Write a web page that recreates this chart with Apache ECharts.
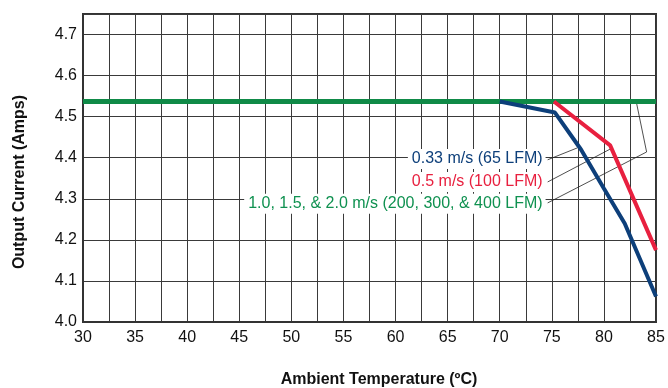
<!DOCTYPE html>
<html>
<head>
<meta charset="utf-8">
<script src="https://cdn.jsdelivr.net/npm/echarts@6/dist/echarts.min.js"></script>
<style>
  html, body { margin: 0; padding: 0; background: #fff; }
  #chart { width: 668px; height: 388px; }
</style>
</head>
<body>
<div id="chart"></div>
<script>
  // 数据
  var xTicks = [30, 35, 40, 45, 50, 55, 60, 65, 70, 75, 80, 85];
  var yTicks = [4.0, 4.1, 4.2, 4.3, 4.4, 4.5, 4.6, 4.7];
  var greenLine = [[30, 4.537], [85, 4.537]];
  var redLine = [[75.2, 4.537], [80.6, 4.43], [85, 4.175]];
  var blueLine = [[70, 4.537], [75.3, 4.51], [77.8, 4.42], [80, 4.325], [82, 4.24], [85, 4.062]];
  var noteNames = ['0.33 m/s (65 LFM)', '0.5 m/s (100 LFM)', '1.0, 1.5, & 2.0 m/s (200, 300, & 400 LFM)'];
  var noteColors = ['#0d3f7a', '#e8203f', '#0f9150'];
  var noteX = 74.4;
  var noteY = [4.397, 4.341, 4.288];
  var leaderBlue = [[74.6, 4.395], [77.45, 4.424]];
  var leaderRed = [[74.6, 4.341], [80.6, 4.421]];
  var leaderGreen = [[74.6, 4.29], [84.1, 4.414], [83.1, 4.537]];

  var fontMain = '"Liberation Sans", Arial, sans-serif';

  var myChart = echarts.init(document.getElementById('chart'));

  function leader(data) {
    return {
      type: 'line',
      data: data,
      symbol: 'none',
      silent: true,
      z: 1,
      lineStyle: { color: '#222', width: 0.8 }
    };
  }

  var option = {
    animation: false,
    grid: {
      left: 83, right: 12, top: 14, bottom: 66,
      show: true, borderColor: '#333', borderWidth: 2
    },
    xAxis: {
      type: 'value',
      min: xTicks[0],
      max: xTicks[xTicks.length - 1],
      interval: 2.5,
      axisLine: { show: true, lineStyle: { color: '#333', width: 2 } },
      axisTick: { show: false },
      splitLine: { show: true, lineStyle: { color: '#3a3a3a', width: 1 } },
      axisLabel: {
        color: '#111', fontSize: 16, fontFamily: fontMain, margin: 8,
        formatter: function (v) { return xTicks.indexOf(v) >= 0 ? String(v) : ''; }
      }
    },
    yAxis: {
      type: 'value',
      min: yTicks[0],
      max: 4.75,
      interval: 0.1,
      axisLine: { show: true, lineStyle: { color: '#333', width: 2 } },
      axisTick: { show: false },
      splitLine: { show: true, lineStyle: { color: '#3a3a3a', width: 1 } },
      axisLabel: {
        color: '#111', fontSize: 16, fontFamily: fontMain, margin: 6, showMaxLabel: false,
        formatter: function (v) {
          var s = v.toFixed(1);
          return yTicks.indexOf(parseFloat(s)) >= 0 && Math.abs(v - parseFloat(s)) < 1e-6 ? s : '';
        }
      }
    },
    series: [
      leader(leaderBlue),
      leader(leaderRed),
      leader(leaderGreen),
      {
        type: 'line', data: greenLine, symbol: 'none', z: 4,
        lineStyle: { color: '#0f8a47', width: 5 }
      },
      {
        type: 'line', data: redLine, symbol: 'none', z: 5,
        lineStyle: { color: '#e8203f', width: 4 }
      },
      {
        type: 'line', data: blueLine, symbol: 'none', z: 6,
        lineStyle: { color: '#0d3f7a', width: 4 }
      }
    ]
  };

  myChart.setOption(option);

  // 标注文字：用坐标换算放到图上，白底遮住网格线
  var graphics = [
    {
      type: 'text', x: 379, y: 380, z: 10,
      style: { text: 'Ambient Temperature (ºC)', fill: '#111', font: 'bold 16px ' + fontMain, align: 'center', verticalAlign: 'middle' }
    },
    {
      type: 'text', x: 20, y: 182, rotation: Math.PI / 2, z: 10,
      style: { text: 'Output Current (Amps)', fill: '#111', font: 'bold 16px ' + fontMain, align: 'center', verticalAlign: 'middle' }
    }
  ];
  noteY.forEach(function (y, i) {
    var p = myChart.convertToPixel({ gridIndex: 0 }, [noteX, y]);
    graphics.push({
      type: 'text', x: p[0], y: p[1], z: 10,
      style: {
        text: noteNames[i], fill: noteColors[i], font: '16px ' + fontMain,
        align: 'right', verticalAlign: 'middle',
        backgroundColor: '#ffffff', padding: [2, 3, 2, 4]
      }
    });
  });
  myChart.setOption({ graphic: graphics });
</script>
</body>
</html>
